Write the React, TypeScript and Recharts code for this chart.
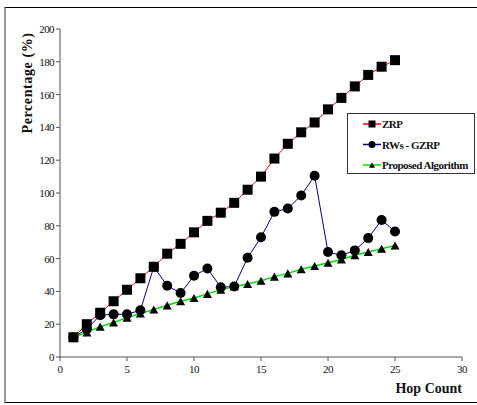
import React from 'react'
import { Line, LineChart, XAxis, YAxis } from 'recharts'

const hops = [1, 2, 3, 4, 5, 6, 7, 8, 9, 10, 11, 12, 13, 14, 15, 16, 17, 18, 19, 20, 21, 22, 23, 24, 25]
const zrp = [12, 20, 27, 34, 41, 48, 55, 63, 69, 76, 83, 88, 94, 102, 110, 121, 130, 137, 143, 151, 158, 165, 172, 177, 181]
const rwsGzrp = [12, 17, 25.5, 26, 26, 28.5, 55, 43.5, 39, 49.5, 54, 42.5, 43, 60.5, 73, 88.5, 90.5, 98.5, 110.5, 64, 62, 65, 72.5, 83.5, 76.5]
const proposed = [12, 15, 18.5, 21, 24, 26.5, 29, 31.5, 34, 36, 38.5, 41, 43, 44.5, 46.5, 49, 51, 53.5, 55.5, 57.5, 59.5, 62, 64, 66, 68]

const xTicks = [0, 5, 10, 15, 20, 25, 30]
const yTicks = [0, 20, 40, 60, 80, 100, 120, 140, 160, 180, 200]

const SERIES = [
  { key: 'zrp', name: 'ZRP', color: '#ff0000', marker: 'square' },
  { key: 'rws', name: 'RWs - GZRP', color: '#000080', marker: 'circle' },
  { key: 'proposed', name: 'Proposed Algorithm', color: '#00e000', marker: 'triangle' },
]

const data = hops.map((h, i) => ({ hop: h, zrp: zrp[i], rws: rwsGzrp[i], proposed: proposed[i] }))

const FONT = '"Liberation Serif", "DejaVu Serif", serif'

function Marker({ type, cx, cy, s }: { type: string; cx: number; cy: number; s: number }) {
  if (type === 'square') {
    return <rect x={cx - s / 2} y={cy - s / 2} width={s} height={s} fill="#000" />
  }
  if (type === 'circle') {
    return <circle cx={cx} cy={cy} r={s / 2} fill="#000" />
  }
  const h = s * 0.9
  return <polygon points={`${cx},${cy - h / 2} ${cx + s / 2},${cy + h / 2} ${cx - s / 2},${cy + h / 2}`} fill="#000" />
}

function makeDot(type: string, s: number) {
  return (props: any) => {
    const { cx, cy, index } = props
    if (cx == null || cy == null) return <g key={index} />
    return <Marker key={index} type={type} cx={cx} cy={cy} s={s} />
  }
}

function YTick({ x, y, payload }: any) {
  return (
    <text x={x} y={y} dy={4} textAnchor="end" fontFamily={FONT} fontSize={11} fill="#111" letterSpacing={-0.6}>
      {payload.value}
    </text>
  )
}

function XTick({ x, y, payload }: any) {
  return (
    <text x={x} y={y} dy={10} textAnchor="middle" fontFamily={FONT} fontSize={11} fill="#111" letterSpacing={-0.6}>
      {payload.value}
    </text>
  )
}

function LegendBox() {
  return (
    <div
      style={{
        position: 'absolute',
        left: 347,
        top: 113,
        width: 128,
        height: 61,
        border: '1px solid #333',
        background: '#fff',
        boxSizing: 'border-box',
      }}
    >
      <svg width={126} height={59} style={{ display: 'block' }}>
        {SERIES.map((s, i) => {
          const cy = 10 + i * 20.5
          return (
            <g key={s.key}>
              <line x1={15} x2={33} y1={cy} y2={cy} stroke={s.color} strokeWidth={1.5} />
              <Marker type={s.marker} cx={24} cy={cy} s={s.marker === 'triangle' ? 6 : 7} />
              <text x={34} y={cy + 4} fontFamily={FONT} fontSize={11} fontWeight="bold" fill="#111" letterSpacing={-0.5}>
                {s.name}
              </text>
            </g>
          )
        })}
      </svg>
    </div>
  )
}

export default function App() {
  return (
    <div style={{ position: 'absolute', left: 0, top: 0, width: 477, height: 405, background: '#fff' }}>
      <div
        style={{
          position: 'absolute',
          left: 4,
          top: 7,
          width: 473,
          height: 396,
          borderLeft: '2px solid #999',
          borderTop: '1.5px solid #000',
          borderBottom: '1.5px solid #000',
          boxSizing: 'border-box',
        }}
      />
      <div style={{ position: 'absolute', left: 0, top: 0 }}>
        <LineChart width={477} height={405} data={data} margin={{ top: 29, right: 15, bottom: 0, left: 0 }}>
          <XAxis
            dataKey="hop"
            type="number"
            domain={[0, 30]}
            ticks={xTicks}
            interval={0}
            tick={<XTick />}
            tickSize={4}
            height={48}
            stroke="#555"
            label={{
              content: ({ viewBox }: any) => (
                <text
                  x={viewBox.x + viewBox.width}
                  y={viewBox.y + 36}
                  textAnchor="end"
                  fontFamily={FONT}
                  fontSize={14}
                  fontWeight="bold"
                  fill="#111"
                >
                  Hop Count
                </text>
              ),
            }}
          />
          <YAxis
            type="number"
            domain={[0, 200]}
            ticks={yTicks}
            interval={0}
            tick={<YTick />}
            tickSize={4}
            width={60}
            stroke="#555"
            label={{
              content: () => (
                <text
                  x={0}
                  y={0}
                  transform="translate(32, 83) rotate(-90)"
                  textAnchor="middle"
                  fontFamily={FONT}
                  fontSize={14}
                  fontWeight="bold"
                  fill="#111"
                  letterSpacing={0.6}
                >
                  Percentage (%)
                </text>
              ),
            }}
          />
          <Line dataKey="zrp" name="ZRP" stroke="#ff0000" strokeWidth={1} dot={makeDot('square', 10)} activeDot={false} isAnimationActive={false} />
          <Line dataKey="rws" name="RWs - GZRP" stroke="#000080" strokeWidth={1} dot={makeDot('circle', 10)} activeDot={false} isAnimationActive={false} />
          <Line dataKey="proposed" name="Proposed Algorithm" stroke="#00e000" strokeWidth={1.5} dot={makeDot('triangle', 9)} activeDot={false} isAnimationActive={false} />
        </LineChart>
      </div>
      <LegendBox />
    </div>
  )
}
